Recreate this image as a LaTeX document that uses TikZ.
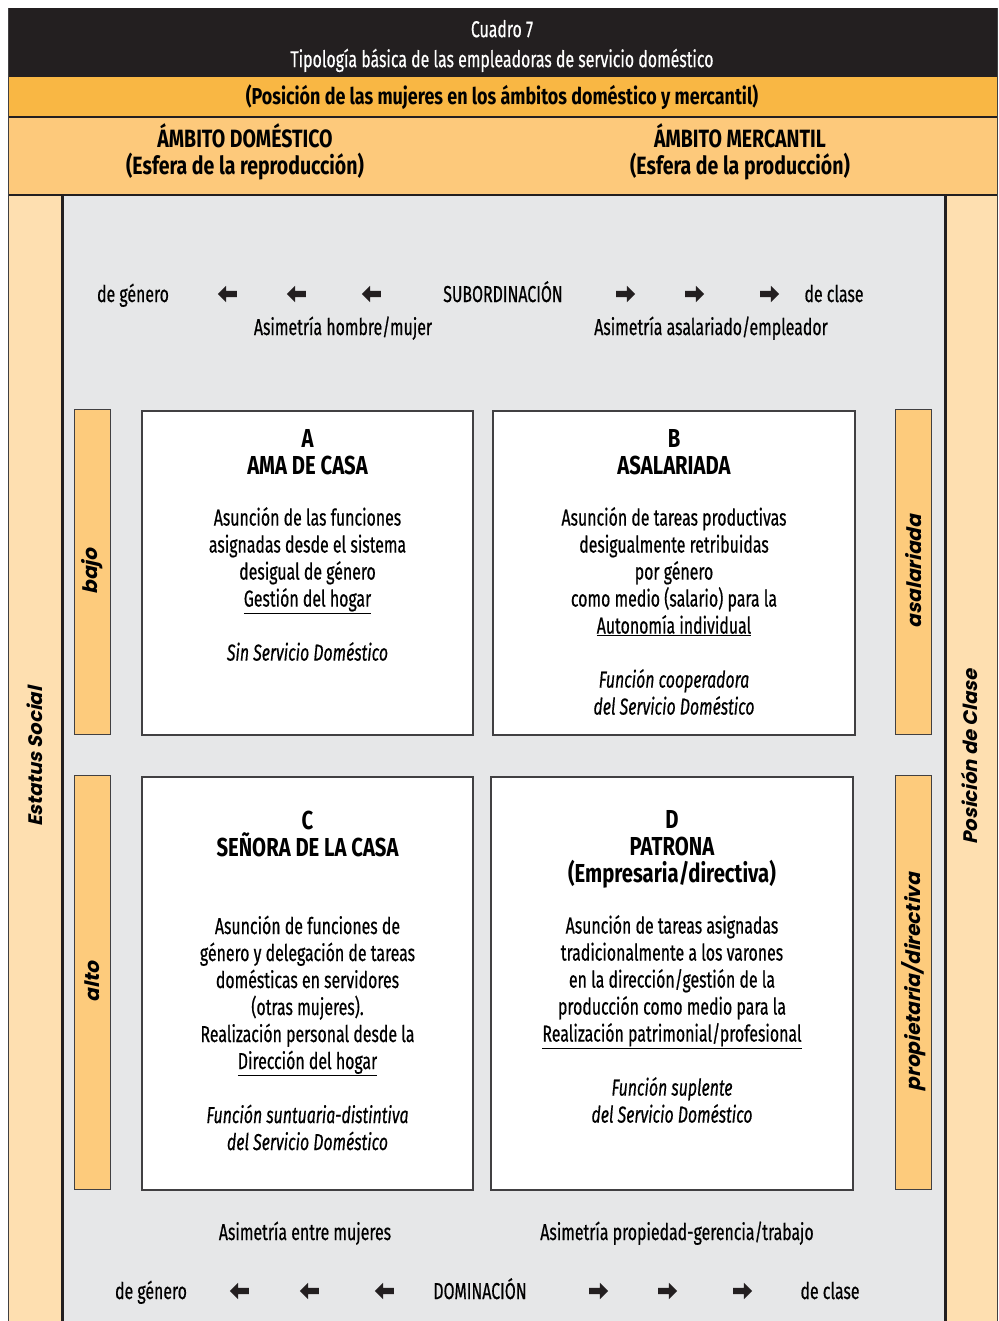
\documentclass[tikz,border=0pt]{standalone}
\usepackage{fontspec}
\setmainfont{Fira Sans}[
  UprightFeatures={FakeStretch=0.69,FakeBold=0.5},
  ItalicFeatures={FakeStretch=0.69,FakeBold=0.5},
  BoldFeatures={FakeStretch=0.78},
  BoldItalicFeatures={FakeStretch=0.78}]
\newfontfamily\geofont{Poppins}[FakeSlant=0.22]
\usetikzlibrary{positioning,shapes.arrows}
\definecolor{ink}{HTML}{231F20}
\definecolor{edge}{HTML}{414042}
\definecolor{band}{HTML}{F9B744}
\definecolor{head}{HTML}{FDC97B}
\definecolor{pale}{HTML}{FEDFB0}
\definecolor{field}{HTML}{E6E7E8}
\definecolor{barfill}{HTML}{FDCB7C}
\tikzset{
  cell/.style={draw=edge,line width=1.3pt,fill=white,inner sep=0pt},
  txt/.style={align=center,inner sep=0pt,font=\fontsize{23}{27}\selectfont},
  lbl/.style={inner sep=0pt,anchor=base,font=\fontsize{23}{27}\selectfont},
  bar/.style={rotate=90,draw=edge,line width=1pt,fill=barfill,minimum height=36pt,inner sep=0pt,font=\geofont\bfseries\fontsize{20}{24}\selectfont},
  side/.style={rotate=90,inner sep=0pt,font=\geofont\bfseries\fontsize{19.5}{24}\selectfont},
  larr/.style={single arrow,fill=ink,inner sep=3pt,minimum height=19pt,single arrow head extend=5pt,shape border rotate=180},
  rarr/.style={larr,shape border rotate=0},
}
\newcommand\hd[1]{{\fontsize{26}{27}\selectfont\bfseries #1}}

\begin{document}
\begin{tikzpicture}[x=1pt,y=-1pt]
\useasboundingbox (0,0) rectangle (998,1321);
% bands and frame
\fill[ink] (8,8) rectangle (997,77);
\fill[band] (8,77) rectangle (997,117);
\fill[head] (8,117) rectangle (997,195);
\fill[pale] (8,195) rectangle (62,1321);
\fill[field] (62,195) rectangle (945,1321);
\fill[pale] (945,195) rectangle (997,1321);
\draw[ink,line width=2.5pt] (8,117) -- (997,117) (8,195) -- (997,195)
  (62.5,195) -- (62.5,1321) (945.5,195) -- (945.5,1321);
\draw[edge,line width=0.8pt] (8,8) -- (8,1321) (997,8) -- (997,1321);

\node[txt,text=white,font=\fontsize{23}{30}\selectfont] (title) at (502,46) {Cuadro 7\\Tipología básica de las empleadoras de servicio doméstico};
\node[txt,font=\bfseries\fontsize{23}{27}\selectfont] (subtitle) at (502,97) {(Posición de las mujeres en los ámbitos doméstico y mercantil)};
\node[txt,font=\bfseries\fontsize{25}{27}\selectfont] (dom) at (245,152) {ÁMBITO DOMÉSTICO\\(Esfera de la reproducción)};
\node[txt,font=\bfseries\fontsize{25}{27}\selectfont] (mer) at (740,152) {ÁMBITO MERCANTIL\\(Esfera de la producción)};

\node[side] (estatus) at (35,757) {Estatus Social};
\node[side] (posicion) at (969,757) {Posición de Clase};

% subordinacion
\node[lbl] (sgen) at (133,302) {de género};
\node[lbl] (sub) at (503,302) {SUBORDINACIÓN};
\node[lbl] (scla) at (834,302) {de clase};
\foreach \x [count=\i] in {229,298,373} \node[larr] (sl\i) at (\x,294) {};
\foreach \x [count=\i] in {624,693,768} \node[rarr] (sr\i) at (\x,294) {};
\node[lbl] (asim1) at (343,335) {Asimetría hombre/mujer};
\node[lbl] (asim2) at (711,335) {Asimetría asalariado/empleador};

% side bars
\node[bar,minimum width=325pt] (bajo) at (92,571.5) {bajo};
\node[bar,minimum width=414pt] (alto) at (92,982) {alto};
\node[bar,minimum width=325pt] (asal) at (913.5,571.5) {asalariada};
\node[bar,minimum width=414pt] (prop) at (913.5,982) {propietaria/directiva};

% cells
\node[cell,minimum width=331pt,minimum height=324pt] (cellA) at (307.5,573) {};
\node[cell,minimum width=362pt,minimum height=324pt] (cellB) at (674,573) {};
\node[cell,minimum width=331pt,minimum height=413pt] (cellC) at (307.5,983.5) {};
\node[cell,minimum width=362pt,minimum height=413pt] (cellD) at (672,983.5) {};

\node[txt,below=19pt of cellA.north] (textA) {\hd{A}\\\hd{AMA DE CASA}\\[24pt]Asunción de las funciones\\asignadas desde el sistema\\desigual de género\\\underline{Gestión del hogar}\\[27pt]\textit{Sin Servicio Doméstico}};
\node[txt,below=19pt of cellB.north] (textB) {\hd{B}\\\hd{ASALARIADA}\\[24pt]Asunción de tareas productivas\\desigualmente retribuidas\\por género\\como medio (salario) para la\\\underline{Autonomía individual}\\[27pt]\textit{Función cooperadora}\\\textit{del Servicio Doméstico}};
\node[txt,below=34pt of cellC.north] (textC) {\hd{C}\\\hd{SEÑORA DE LA CASA}\\[51pt]Asunción de funciones de\\género y delegación de tareas\\domésticas en servidores\\(otras mujeres).\\Realización personal desde la\\\underline{Dirección del hogar}\\[27pt]\textit{Función suntuaria-distintiva}\\\textit{del Servicio Doméstico}};
\node[txt,below=34pt of cellD.north] (textD) {\hd{D}\\\hd{PATRONA}\\\hd{(Empresaria/directiva)}\\[24pt]Asunción de tareas asignadas\\tradicionalmente a los varones\\en la dirección/gestión de la\\producción como medio para la\\\underline{Realización patrimonial/profesional}\\[27pt]\textit{Función suplente}\\\textit{del Servicio Doméstico}};

% dominacion
\node[lbl] (asim3) at (305,1240) {Asimetría entre mujeres};
\node[lbl] (asim4) at (677,1240) {Asimetría propiedad-gerencia/trabajo};
\node[lbl] (dgen) at (151,1299) {de género};
\node[lbl] (dmn) at (480,1299) {DOMINACIÓN};
\node[lbl] (dcla) at (830,1299) {de clase};
\foreach \x [count=\i] in {241,311,386} \node[larr] (dl\i) at (\x,1291) {};
\foreach \x [count=\i] in {597,666,741} \node[rarr] (dr\i) at (\x,1291) {};
\end{tikzpicture}
\end{document}
